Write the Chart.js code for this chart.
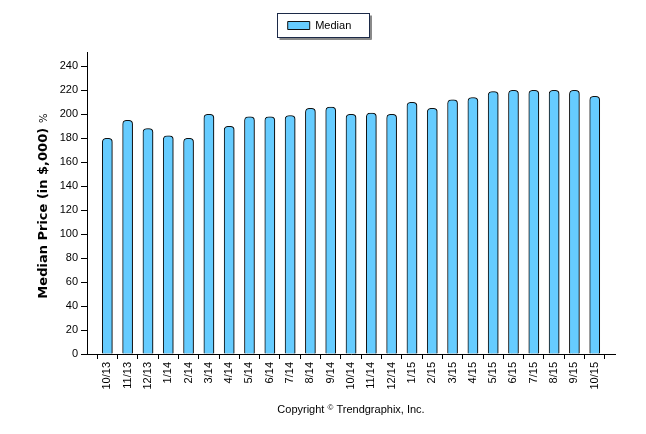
<!DOCTYPE html>
<html><head><meta charset="utf-8">
<script src="https://cdn.jsdelivr.net/npm/chart.js@4.4.1/dist/chart.umd.min.js"></script>
<style>html,body{margin:0;padding:0;background:#fff;}#wrap{width:646px;height:434px;}</style>
</head><body><div id="wrap"><canvas id="c" width="646" height="434"></canvas></div>
<script>
const categories = ['10/13','11/13','12/13','1/14','2/14','3/14','4/14','5/14','6/14','7/14','8/14','9/14','10/14','11/14','12/14','1/15','2/15','3/15','4/15','5/15','6/15','7/15','8/15','9/15','10/15'];
const medianValues = [180,195,188,182,180,200,190,198,198,199,205,206,200,201,200,210,205,212,214,219,220,220,220,220,215];
const seriesName = 'Median';
const yMin = 0, yMax = 252, yStep = 20;
const yTitle = 'Median Price (in $,000)';
const yTitleSuffix = '%';
const copyrightParts = ['Copyright ', '\u00A9', ' Trendgraphix, Inc.'];

Chart.defaults.font.family = '"Liberation Sans", Arial, sans-serif';
Chart.defaults.font.size = 11;
Chart.defaults.color = '#000';

const decor = {
  id: 'decor',
  beforeDatasetDraw(chart) {
    const ctx = chart.ctx;
    ctx.save();
    ctx.shadowColor = 'rgba(0,0,0,0.35)';
    ctx.shadowOffsetX = 2;
    ctx.shadowOffsetY = 0;
    ctx.shadowBlur = 0;
  },
  afterDatasetDraw(chart) { chart.ctx.restore(); },
  afterDraw(chart) {
    const ctx = chart.ctx;
    // legend frame
    const hb = chart.legend.legendHitBoxes[0];
    if (hb) {
      const x = Math.round(hb.left - 11) + 0.5, y = Math.round(hb.top - 7) + 0.5;
      const w = Math.round(hb.width + 28), h = Math.round(hb.height + 13);
      ctx.save();
      ctx.fillStyle = '#8a8a8a';
      ctx.fillRect(x + 2, y + h + 0.5, w, 2);
      ctx.fillRect(x + w + 0.5, y + 2, 2, h);
      ctx.strokeStyle = '#1c2a48';
      ctx.lineWidth = 1;
      ctx.strokeRect(x, y, w, h);
      ctx.restore();
    }
    // y title
    ctx.save();
    ctx.translate(42, 206);
    ctx.rotate(-Math.PI / 2);
    ctx.fillStyle = '#000';
    ctx.textBaseline = 'alphabetic';
    ctx.font = 'bold 13px "DejaVu Sans"';
    const w1 = ctx.measureText(yTitle).width;
    ctx.font = '10px "DejaVu Sans"';
    const w2 = ctx.measureText(yTitleSuffix).width;
    const gap = 5;
    const sx = -(w1 + gap + w2) / 2;
    ctx.font = 'bold 13px "DejaVu Sans"';
    ctx.fillText(yTitle, sx, 5);
    ctx.font = '10px "DejaVu Sans"';
    ctx.fillText(yTitleSuffix, sx + w1 + gap, 5);
    ctx.restore();
    // copyright
    ctx.save();
    ctx.fillStyle = '#000';
    ctx.textBaseline = 'alphabetic';
    const f1 = '11px "Liberation Sans"', f2 = '8px "Liberation Sans"';
    ctx.font = f1; const a = ctx.measureText(copyrightParts[0]).width, c = ctx.measureText(copyrightParts[2]).width;
    ctx.font = f2; const b = ctx.measureText(copyrightParts[1]).width;
    const cx = (chart.chartArea.left + chart.chartArea.right) / 2;
    let px = cx - (a + b + c) / 2;
    const by = 413;
    ctx.font = f1; ctx.fillText(copyrightParts[0], px, by); px += a;
    ctx.font = f2; ctx.fillText(copyrightParts[1], px, by - 3); px += b;
    ctx.font = f1; ctx.fillText(copyrightParts[2], px, by);
    ctx.restore();
  }
};

new Chart(document.getElementById('c'), {
  type: 'bar',
  data: {
    datasets: [{
      label: seriesName,
      data: medianValues.map((v, i) => ({ x: i, y: v })),
      backgroundColor: '#66CCFF',
      borderColor: '#111111',
      borderWidth: 1,
      borderSkipped: 'bottom',
      borderRadius: { topLeft: 4, topRight: 4, bottomLeft: 0, bottomRight: 0 },
      barThickness: 10
    }]
  },
  options: {
    responsive: false,
    animation: false,
    devicePixelRatio: 1,
    layout: { padding: { top: 10, left: 24, right: 31, bottom: 0 } },
    plugins: {
      legend: {
        display: true, position: 'top',
        labels: { boxWidth: 22, boxHeight: 8, padding: 10, color: '#000', font: { size: 11 } }
      },
      title: { display: true, text: ' ', weight: 500, padding: 0, font: { size: 11, lineHeight: 1 } },
      tooltip: { enabled: false }
    },
    scales: {
      x: {
        type: 'linear', min: -1, max: 25, offset: false,
        grid: {
          drawOnChartArea: false, drawTicks: true, tickLength: 5,
          color: (ctx) => (ctx.tick && ctx.tick.value >= 0) ? '#000' : 'rgba(0,0,0,0)'
        },
        border: { color: '#000', width: 1 },
        ticks: {
          stepSize: 1, autoSkip: false, maxRotation: 90, minRotation: 90, padding: 3, color: '#000',
          callback: (v) => (categories[v] !== undefined ? categories[v] : '')
        },
        afterFit: (s) => { s.height = 80; }
      },
      y: {
        min: yMin, max: yMax,
        grid: { drawOnChartArea: false, drawTicks: true, tickLength: 6, color: '#000' },
        border: { color: '#000', width: 1 },
        ticks: { stepSize: yStep, includeBounds: false, padding: 3, color: '#000' },
        afterFit: (s) => { s.width = 63; }
      }
    }
  },
  plugins: [decor]
});
</script>
</body></html>
